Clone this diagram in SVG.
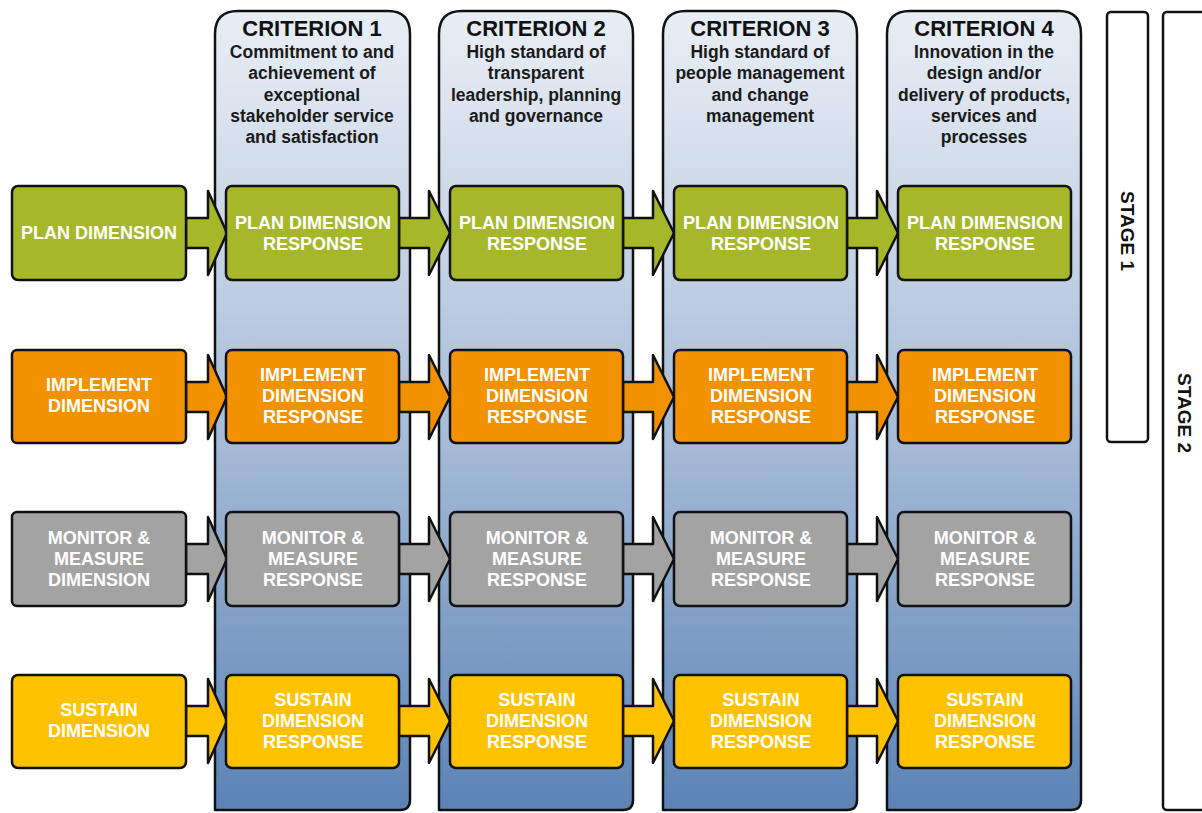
<svg xmlns="http://www.w3.org/2000/svg" width="1202" height="813" viewBox="0 0 1202 813">
<defs>
<linearGradient id="colg" x1="0" y1="0" x2="0" y2="1">
<stop offset="0" stop-color="#e8eef5"/>
<stop offset="0.25" stop-color="#ccd8e8"/>
<stop offset="0.55" stop-color="#a3b9d6"/>
<stop offset="1" stop-color="#5b83b6"/>
</linearGradient>
<style>
.col{fill:url(#colg);stroke:#111;stroke-width:2.5;stroke-linejoin:round}
.bx{stroke:#111;stroke-width:2.5;stroke-linejoin:round}
.ar{stroke:#111;stroke-width:2.5;stroke-linejoin:round}
.g{fill:#a6b82a}.o{fill:#f39200}.s{fill:#a3a3a3}.y{fill:#fec200}
.t{font-family:"Liberation Sans",Arial,sans-serif;font-weight:bold;font-size:18px;fill:#fff;text-anchor:middle}
.h{font-family:"Liberation Sans",Arial,sans-serif;font-weight:bold;font-size:22px;fill:#111;text-anchor:middle}
.d{font-family:"Liberation Sans",Arial,sans-serif;font-weight:bold;font-size:17.5px;fill:#1a1a1a;text-anchor:middle}
.st{font-family:"Liberation Sans",Arial,sans-serif;font-weight:bold;font-size:19px;fill:#111;text-anchor:middle}
.stg{fill:#fff;stroke:#111;stroke-width:2.5}
</style>
<path id="arL" d="M0,-15 H22 V-42 L41,0 L22,42 V15 H0 Z"/>
<path id="arM" d="M0,-15 H30 V-42 L51,0 L30,42 V15 H0 Z"/>
</defs>

<g id="stage1"><rect class="stg" x="1107" y="12" width="41" height="430" rx="4"/><text class="st" transform="translate(1121,231) rotate(90)">STAGE 1</text></g>
<g id="stage2"><rect class="stg" x="1163" y="12" width="60" height="798" rx="4"/><text class="st" transform="translate(1178,413) rotate(90)">STAGE 2</text></g>

<g id="criterion1"><path class="col" d="M215,810 V34 Q215,11 238,11 H388 Q410,11 410,34 V800 Q410,810 400,810 Z"/>
<text class="h" x="312" y="36">CRITERION 1</text>
<text class="d"><tspan x="312" y="58">Commitment to and</tspan><tspan x="312" y="79">achievement of</tspan><tspan x="312" y="101">exceptional</tspan><tspan x="312" y="122">stakeholder service</tspan><tspan x="312" y="143">and satisfaction</tspan></text></g>
<g id="criterion2"><path class="col" d="M439,810 V34 Q439,11 462,11 H611 Q633,11 633,34 V800 Q633,810 623,810 Z"/>
<text class="h" x="536" y="36">CRITERION 2</text>
<text class="d"><tspan x="536" y="58">High standard of</tspan><tspan x="536" y="79">transparent</tspan><tspan x="536" y="101">leadership, planning</tspan><tspan x="536" y="122">and governance</tspan></text></g>
<g id="criterion3"><path class="col" d="M663,810 V34 Q663,11 686,11 H835 Q857,11 857,34 V800 Q857,810 847,810 Z"/>
<text class="h" x="760" y="36">CRITERION 3</text>
<text class="d"><tspan x="760" y="58">High standard of</tspan><tspan x="760" y="79">people management</tspan><tspan x="760" y="101">and change</tspan><tspan x="760" y="122">management</tspan></text></g>
<g id="criterion4"><path class="col" d="M887,810 V34 Q887,11 910,11 H1059 Q1081,11 1081,34 V800 Q1081,810 1071,810 Z"/>
<text class="h" x="984" y="36">CRITERION 4</text>
<text class="d"><tspan x="984" y="58">Innovation in the</tspan><tspan x="984" y="79">design and/or</tspan><tspan x="984" y="101">delivery of products,</tspan><tspan x="984" y="122">services and</tspan><tspan x="984" y="143">processes</tspan></text></g>

<g id="connectors">
<use href="#arL" class="ar g" x="186" y="233"/>
<use href="#arM" class="ar g" x="399" y="233"/>
<use href="#arM" class="ar g" x="623" y="233"/>
<use href="#arM" class="ar g" x="847" y="233"/>
<use href="#arL" class="ar o" x="186" y="397"/>
<use href="#arM" class="ar o" x="399" y="397"/>
<use href="#arM" class="ar o" x="623" y="397"/>
<use href="#arM" class="ar o" x="847" y="397"/>
<use href="#arL" class="ar s" x="186" y="559"/>
<use href="#arM" class="ar s" x="399" y="559"/>
<use href="#arM" class="ar s" x="623" y="559"/>
<use href="#arM" class="ar s" x="847" y="559"/>
<use href="#arL" class="ar y" x="186" y="721"/>
<use href="#arM" class="ar y" x="399" y="721"/>
<use href="#arM" class="ar y" x="623" y="721"/>
<use href="#arM" class="ar y" x="847" y="721"/>
</g>

<g id="plan-dim"><rect class="bx g" x="12" y="186" width="174" height="94" rx="6"/><text class="t" x="99" y="239">PLAN DIMENSION</text></g>
<g id="impl-dim"><rect class="bx o" x="12" y="350" width="174" height="93" rx="5"/><text class="t"><tspan x="99" y="391">IMPLEMENT</tspan><tspan x="99" y="412">DIMENSION</tspan></text></g>
<g id="mon-dim"><rect class="bx s" x="12" y="512" width="174" height="94" rx="5"/><text class="t"><tspan x="99" y="544">MONITOR &amp;</tspan><tspan x="99" y="565">MEASURE</tspan><tspan x="99" y="586">DIMENSION</tspan></text></g>
<g id="sus-dim"><rect class="bx y" x="12" y="675" width="174" height="93" rx="6"/><text class="t"><tspan x="99" y="716">SUSTAIN</tspan><tspan x="99" y="737">DIMENSION</tspan></text></g>

<g id="plan-r1"><rect class="bx g" x="226" y="186" width="173" height="94" rx="6"/><text class="t"><tspan x="313" y="229">PLAN DIMENSION</tspan><tspan x="313" y="250">RESPONSE</tspan></text></g>
<g id="plan-r2"><rect class="bx g" x="450" y="186" width="173" height="94" rx="6"/><text class="t"><tspan x="537" y="229">PLAN DIMENSION</tspan><tspan x="537" y="250">RESPONSE</tspan></text></g>
<g id="plan-r3"><rect class="bx g" x="674" y="186" width="173" height="94" rx="6"/><text class="t"><tspan x="761" y="229">PLAN DIMENSION</tspan><tspan x="761" y="250">RESPONSE</tspan></text></g>
<g id="plan-r4"><rect class="bx g" x="898" y="186" width="173" height="94" rx="6"/><text class="t"><tspan x="985" y="229">PLAN DIMENSION</tspan><tspan x="985" y="250">RESPONSE</tspan></text></g>

<g id="impl-r1"><rect class="bx o" x="226" y="350" width="173" height="93" rx="6"/><text class="t"><tspan x="313" y="381">IMPLEMENT</tspan><tspan x="313" y="402">DIMENSION</tspan><tspan x="313" y="423">RESPONSE</tspan></text></g>
<g id="impl-r2"><rect class="bx o" x="450" y="350" width="173" height="93" rx="6"/><text class="t"><tspan x="537" y="381">IMPLEMENT</tspan><tspan x="537" y="402">DIMENSION</tspan><tspan x="537" y="423">RESPONSE</tspan></text></g>
<g id="impl-r3"><rect class="bx o" x="674" y="350" width="173" height="93" rx="6"/><text class="t"><tspan x="761" y="381">IMPLEMENT</tspan><tspan x="761" y="402">DIMENSION</tspan><tspan x="761" y="423">RESPONSE</tspan></text></g>
<g id="impl-r4"><rect class="bx o" x="898" y="350" width="173" height="93" rx="6"/><text class="t"><tspan x="985" y="381">IMPLEMENT</tspan><tspan x="985" y="402">DIMENSION</tspan><tspan x="985" y="423">RESPONSE</tspan></text></g>

<g id="mon-r1"><rect class="bx s" x="226" y="512" width="173" height="94" rx="6"/><text class="t"><tspan x="313" y="544">MONITOR &amp;</tspan><tspan x="313" y="565">MEASURE</tspan><tspan x="313" y="586">RESPONSE</tspan></text></g>
<g id="mon-r2"><rect class="bx s" x="450" y="512" width="173" height="94" rx="6"/><text class="t"><tspan x="537" y="544">MONITOR &amp;</tspan><tspan x="537" y="565">MEASURE</tspan><tspan x="537" y="586">RESPONSE</tspan></text></g>
<g id="mon-r3"><rect class="bx s" x="674" y="512" width="173" height="94" rx="6"/><text class="t"><tspan x="761" y="544">MONITOR &amp;</tspan><tspan x="761" y="565">MEASURE</tspan><tspan x="761" y="586">RESPONSE</tspan></text></g>
<g id="mon-r4"><rect class="bx s" x="898" y="512" width="173" height="94" rx="6"/><text class="t"><tspan x="985" y="544">MONITOR &amp;</tspan><tspan x="985" y="565">MEASURE</tspan><tspan x="985" y="586">RESPONSE</tspan></text></g>

<g id="sus-r1"><rect class="bx y" x="226" y="675" width="173" height="93" rx="6"/><text class="t"><tspan x="313" y="706">SUSTAIN</tspan><tspan x="313" y="727">DIMENSION</tspan><tspan x="313" y="748">RESPONSE</tspan></text></g>
<g id="sus-r2"><rect class="bx y" x="450" y="675" width="173" height="93" rx="6"/><text class="t"><tspan x="537" y="706">SUSTAIN</tspan><tspan x="537" y="727">DIMENSION</tspan><tspan x="537" y="748">RESPONSE</tspan></text></g>
<g id="sus-r3"><rect class="bx y" x="674" y="675" width="173" height="93" rx="6"/><text class="t"><tspan x="761" y="706">SUSTAIN</tspan><tspan x="761" y="727">DIMENSION</tspan><tspan x="761" y="748">RESPONSE</tspan></text></g>
<g id="sus-r4"><rect class="bx y" x="898" y="675" width="173" height="93" rx="6"/><text class="t"><tspan x="985" y="706">SUSTAIN</tspan><tspan x="985" y="727">DIMENSION</tspan><tspan x="985" y="748">RESPONSE</tspan></text></g>
</svg>
